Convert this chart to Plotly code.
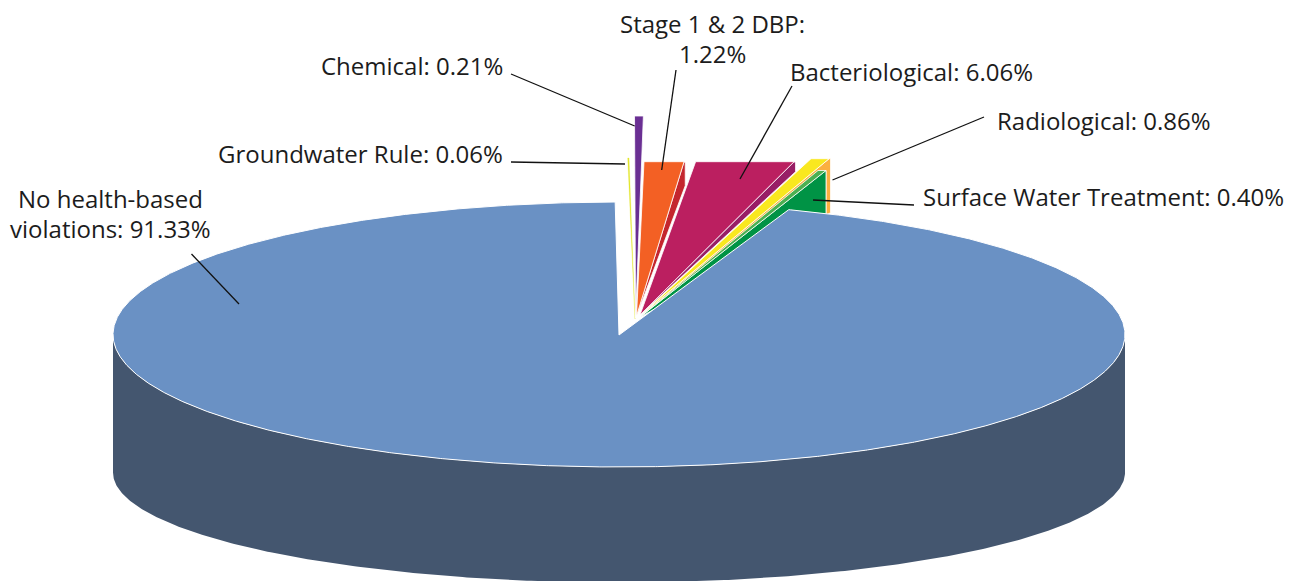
import numpy as np
import plotly.graph_objects as go

# ---- data ----
categories = ["No health-based violations", "Groundwater Rule", "Chemical", "Stage 1 & 2 DBP",
              "Bacteriological", "Radiological", "Surface Water Treatment"]
values = [91.33, 0.06, 0.21, 1.22, 6.06, 0.86, 0.40]
label_lines = [["No health-based", "violations: 91.33%"], ["Groundwater Rule: 0.06%"], ["Chemical: 0.21%"],
               ["Stage 1 &amp; 2 DBP:", "1.22%"], ["Bacteriological: 6.06%"], ["Radiological: 0.86%"],
               ["Surface Water Treatment: 0.40%"]]

# ---- drawing geometry (pixel-scaled axes) ----
CX, CY, RX, RY = 619, 334.5, 506, 132.5
DEPTH, RY_LOW = 138, 110
ASPECT = RX / RY
# the picture foreshortens each slice by its own factor
sweep_scale = [1.034, 0.56, 0.87, 0.884, 0.427, 0.513, 0.514]
start_t = [19.6, -0.678, -0.08, 0.73, 5.43, 15.9, 17.65]
apex_x = [619, 635, 635.6, 636.5, 640, 641, 640]
apex_y = [335, 319, 318, 316, 315, 315, 317]
top_y = [None, 158, 116, 161.7, 161.7, 158.7, 170.5]
wall_h = [0, 0, 0, 24, 10, 54, 45]
wall_dx = [0, 0, 0, 1.2, 1.5, 1.5, 0]
face_colors = ["#6a91c4", "#e3e62e", "#6a2f93", "#f36024", "#bb1f60", "#f9e81f", "#4cb051"]
wall_colors = [None, None, None, "#c4262e", "#981e66", "#fbb040", "#009345"]
side_color = "#44566f"
text_color = "#1c1c1c"
label_x = [110, 502.5, 502.5, 712, 789.5, 996.5, 923]
label_y = [198.5, 153.5, 65.5, 23.5, 71.5, 120.5, 196.5]
line_gap = 30
label_anchor = ["center", "right", "right", "center", "left", "left", "left"]
leader_x = [(191.5, 239), (511, 625), (511, 634.7), (676, 661.7), (792, 740), (984, 832.5), (914, 813)]
leader_y = [(254, 304), (162, 164), (74, 126), (70, 170), (86, 179), (117, 180), (205, 200)]

fig = go.Figure()


def poly(x, y, color, border="white", width=1.0):
    fig.add_trace(go.Scatter(x=x, y=y, mode="lines", fill="toself", fillcolor=color,
                             line=dict(color=border, width=width), hoverinfo="skip", showlegend=False))


# cylinder side of the large slice
t_side = np.radians(np.linspace(90, 270, 361))
upper_x = CX + RX * np.sin(t_side)
upper_y = CY - RY * np.cos(t_side)
lower_x = upper_x[::-1]
lower_y = (CY + DEPTH - RY_LOW * np.cos(t_side))[::-1]
poly(np.r_[upper_x, lower_x], np.r_[upper_y, lower_y], side_color, border=side_color, width=0)

# small exploded slices: flat-topped wedges, sweep taken from each value
draw_order = [1, 2, 3, 4, 5, 6]
for i in draw_order:
    dy = apex_y[i] - top_y[i]
    t0 = start_t[i]
    t1 = t0 + values[i] * 3.6 * sweep_scale[i]
    xl = apex_x[i] + dy * ASPECT * np.tan(np.radians(t0))
    xr = apex_x[i] + dy * ASPECT * np.tan(np.radians(t1))
    if wall_h[i]:
        if i == 5:  # wall sits behind the surface-water slice
            poly([apex_x[i], xr, xr + wall_dx[i], xr + wall_dx[i], apex_x[i]],
                 [apex_y[i], top_y[i], top_y[i], top_y[i] + wall_h[i], apex_y[i]], wall_colors[i], width=0.8)
        else:
            poly([apex_x[i], xr, xr + wall_dx[i], xr + wall_dx[i], apex_x[i]],
                 [apex_y[i], top_y[i], top_y[i] + 1, top_y[i] + wall_h[i], apex_y[i]], wall_colors[i], width=0.8)
    if i == 6:
        poly([apex_x[i], xr, xr, apex_x[i]],
             [apex_y[i], top_y[i], top_y[i] + wall_h[i], apex_y[i]], wall_colors[i], width=0.8)
        poly([apex_x[i], xl, xr, apex_x[i]], [apex_y[i], top_y[i], top_y[i], apex_y[i]], face_colors[i], width=0.8)
    else:
        border = face_colors[i] if i == 1 else "white"
        poly([apex_x[i], xl, xr, apex_x[i]], [apex_y[i], top_y[i], top_y[i], apex_y[i]], face_colors[i],
             border=border, width=0.3 if i == 1 else 0.8)

# large slice top, sweep taken from its value
t_big = np.radians(np.linspace(start_t[0], start_t[0] + values[0] * 3.6 * sweep_scale[0], 1400))
big_x = np.r_[apex_x[0], CX + RX * np.sin(t_big), apex_x[0]]
big_y = np.r_[apex_y[0], CY - RY * np.cos(t_big), apex_y[0]]
poly(big_x, big_y, face_colors[0], width=1.0)

# leader lines
for lx, ly in zip(leader_x, leader_y):
    fig.add_trace(go.Scatter(x=list(lx), y=list(ly), mode="lines", line=dict(color="#111111", width=1.3),
                             hoverinfo="skip", showlegend=False))

# labels
for lines, x, y, a in zip(label_lines, label_x, label_y, label_anchor):
    for k, txt in enumerate(lines):
        fig.add_annotation(x=x, y=y + k * line_gap, text=txt, showarrow=False, xanchor=a, yanchor="middle",
                           align="center", font=dict(family="Open Sans", size=24, color=text_color),
                           borderpad=0, borderwidth=0)

fig.update_layout(width=1294, height=581, margin=dict(l=0, r=0, t=0, b=0), paper_bgcolor="white",
                  plot_bgcolor="white", showlegend=False)
fig.update_xaxes(range=[0, 1294], visible=False, fixedrange=True)
fig.update_yaxes(range=[581, 0], visible=False, fixedrange=True)
fig.write_html("out.html", config={"displayModeBar": False},
               post_script="document.body.style.margin='0';document.body.style.overflow='hidden';")
